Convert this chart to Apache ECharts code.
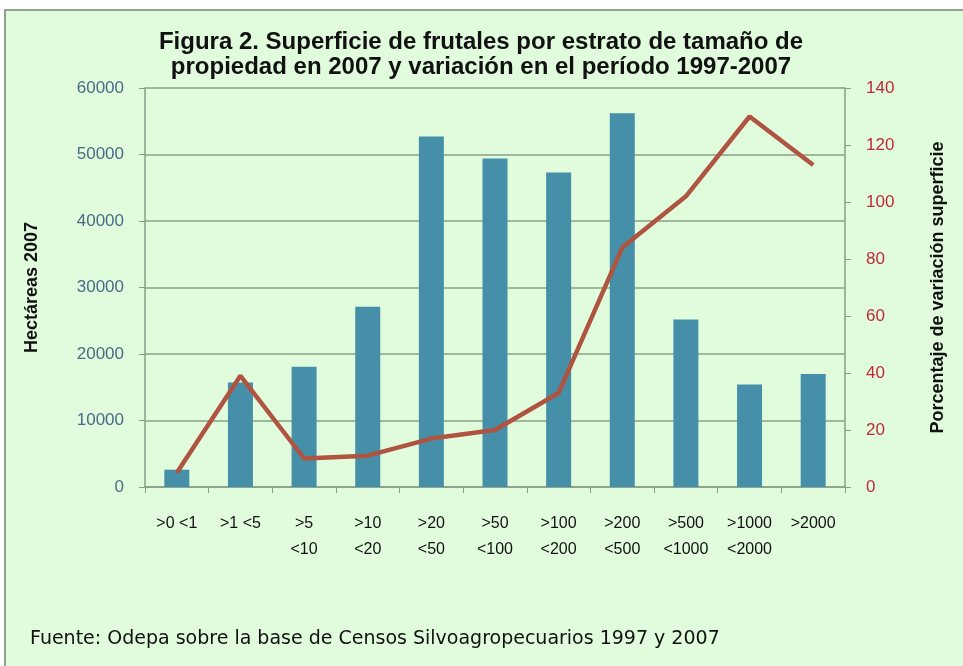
<!DOCTYPE html>
<html>
<head>
<meta charset="utf-8">
<script src="https://cdn.jsdelivr.net/npm/echarts@6/dist/echarts.min.js"></script>
<style>
  html, body { margin: 0; padding: 0; background: #ffffff; }
  .panel {
    position: absolute; left: 4px; top: 9px; width: 980px; height: 680px;
    background: #e0fcdc; border: 2px solid #8fa48c;
  }
  #main { position: absolute; left: 0; top: 0; width: 963px; height: 666px; }
</style>
</head>
<body>
<div class="panel"></div>
<div id="main"></div>
<script>
// estratos de tamaño (ha)
var categories = ['>0 <1', '>1 <5', '>5\n<10', '>10\n<20', '>20\n<50', '>50\n<100',
  '>100\n<200', '>200\n<500', '>500\n<1000', '>1000\n<2000', '>2000'];
// hectáreas 2007
var hectareas = [2600, 15700, 18100, 27100, 52700, 49400, 47300, 56200, 25200, 15400, 17000];
// variación 1997-2007 (%)
var variacion = [5, 39, 10, 11, 17, 20, 33, 84, 102, 130, 113];

var myChart = echarts.init(document.getElementById('main'));
var sans = '"Liberation Sans", Arial, sans-serif';
var axisColor = '#8a9c88';

var option = {
  backgroundColor: 'transparent',
  animation: false,
  title: [
    {
      text: 'Figura 2. Superficie de frutales por estrato de tamaño de\npropiedad en 2007 y variación en el período 1997-2007',
      left: 476,
      top: 25,
      textAlign: 'center',
      textStyle: { fontFamily: sans, fontSize: 24, fontWeight: 'bold', color: '#111', lineHeight: 25 }
    },
    {
      text: 'Fuente: Odepa sobre la base de Censos Silvoagropecuarios 1997 y 2007',
      left: 25,
      top: 625,
      textStyle: { fontFamily: '"DejaVu Sans", sans-serif', fontSize: 19, fontWeight: 'normal', color: '#111' }
    }
  ],
  grid: { left: 145, right: 118, top: 88, bottom: 179, containLabel: false },
  xAxis: {
    type: 'category',
    data: categories,
    axisLine: { lineStyle: { color: axisColor, width: 1.5 } },
    axisTick: { show: true, length: 6, lineStyle: { color: axisColor } },
    axisLabel: { color: '#111', fontSize: 16, fontFamily: sans, margin: 24, lineHeight: 26, interval: 0 }
  },
  yAxis: [
    {
      type: 'value',
      min: 0, max: 60000, interval: 10000,
      name: 'Hectáreas 2007',
      nameLocation: 'middle',
      nameRotate: 90,
      nameGap: 104,
      nameTextStyle: { fontFamily: sans, fontSize: 18, fontWeight: 'bold', color: '#111' },
      axisLine: { show: true, lineStyle: { color: axisColor, width: 1.5 } },
      axisTick: { show: true, length: 6, lineStyle: { color: axisColor } },
      axisLabel: { color: '#4a6a88', fontSize: 17, fontFamily: sans, margin: 21, formatter: function (v) { return String(v); } },
      splitLine: { show: true, lineStyle: { color: '#8aa288', width: 1.5 } }
    },
    {
      type: 'value',
      min: 0, max: 140, interval: 20,
      name: 'Porcentaje de variación superficie',
      nameLocation: 'middle',
      nameRotate: 90,
      nameGap: 84,
      nameTextStyle: { fontFamily: sans, fontSize: 18, fontWeight: 'bold', color: '#111' },
      axisLine: { show: true, lineStyle: { color: axisColor, width: 1.5 } },
      axisTick: { show: true, length: 6, lineStyle: { color: axisColor } },
      axisLabel: { color: '#c0283c', fontSize: 17, fontFamily: sans, margin: 21 },
      splitLine: { show: false }
    }
  ],
  series: [
    {
      name: 'Hectáreas 2007',
      type: 'bar',
      barWidth: 25,
      yAxisIndex: 0,
      itemStyle: { color: '#4590a8' },
      data: hectareas
    },
    {
      name: 'Variación',
      type: 'line',
      yAxisIndex: 1,
      symbol: 'none',
      lineStyle: { color: '#ae5440', width: 4.5 },
      data: variacion
    }
  ]
};
myChart.setOption(option, true);
</script>
</body>
</html>
